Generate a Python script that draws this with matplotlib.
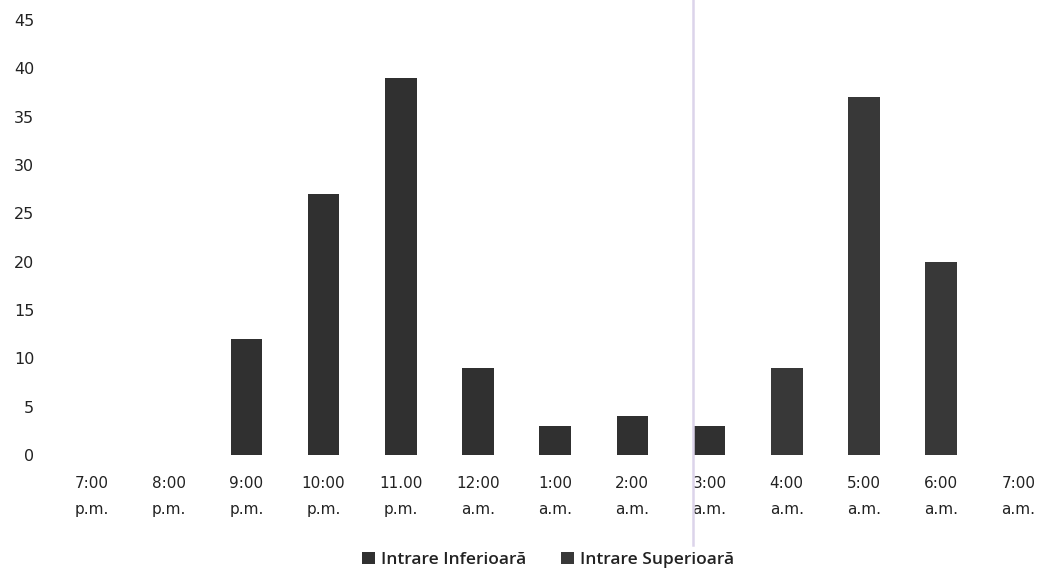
import matplotlib
matplotlib.use("Agg")
import matplotlib.pyplot as plt
from matplotlib.lines import Line2D
from matplotlib.patches import Patch

categories = ["7:00\np.m.", "8:00\np.m.", "9:00\np.m.", "10:00\np.m.", "11.00\np.m.",
              "12:00\na.m.", "1:00\na.m.", "2:00\na.m.", "3:00\na.m.", "4:00\na.m.",
              "5:00\na.m.", "6:00\na.m.", "7:00\na.m."]
inferioara = [0, 0, 12, 27, 39, 9, 3, 4, 3, 0, 0, 0, 0]
superioara = [0, 0, 0, 0, 0, 0, 0, 0, 0, 9, 37, 20, 0]
series_names = ["Intrare Inferioară", "Intrare Superioară"]
yticks = [0, 5, 10, 15, 20, 25, 30, 35, 40, 45]

W, H = 1043, 571
fig = plt.figure(figsize=(W / 100, H / 100), dpi=100)
fig.patch.set_facecolor("white")
ax = fig.add_axes([55 / W, 1 - 455 / H, 1 - 55 / W, (455 - 20) / H])

x = list(range(len(categories)))
c1 = "#303030"
c2 = "#383838"
ax.bar(x, inferioara, width=0.41, color=c1, label=series_names[0])
ax.bar(x, superioara, width=0.41, color=c2, label=series_names[1])

ax.set_xlim(-0.48, 12.32)
ax.set_ylim(0, 45)
ax.set_yticks(yticks)
ax.set_xticks(x)
ax.set_xticklabels(categories, fontsize=11, color="#222222", linespacing=1.95,
                   family="DejaVu Sans")
for lab in ax.get_yticklabels():
    lab.set_family("DejaVu Sans")
ax.tick_params(axis="y", labelsize=11.5, labelcolor="#222222", length=0, pad=15)
ax.tick_params(axis="x", length=0, pad=15)
for s in ax.spines.values():
    s.set_visible(False)

handles = [Patch(facecolor=c1, label=series_names[0]), Patch(facecolor=c2, label=series_names[1])]
fig.legend(handles=handles, loc="lower center", bbox_to_anchor=(548 / W, -0.022), ncol=2,
           frameon=False, handlelength=0.75, handleheight=0.75, handletextpad=0.35,
           columnspacing=2.0, labelcolor="#222222",
           prop={"family": "Open Sans", "size": 12.5, "weight": "semibold"})

# faint vertical scan line
fig.add_artist(Line2D([693 / W, 693 / W], [1 - 545 / H, 1.0], transform=fig.transFigure,
                      color="#dcd4ea", lw=1.8))

fig.savefig("out.png", dpi=100)
